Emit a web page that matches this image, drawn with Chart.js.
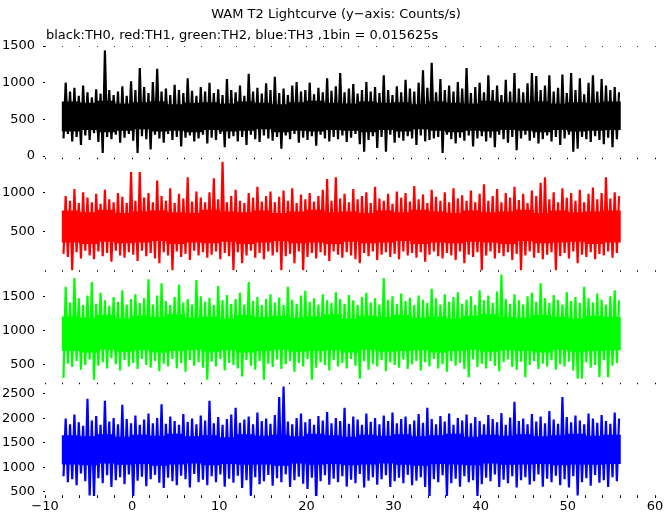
<!DOCTYPE html>
<html>
<head>
<meta charset="utf-8">
<script src="https://cdn.jsdelivr.net/npm/chart.js@4/dist/chart.umd.min.js"></script>
<style>
  body { margin: 0; background: #fff; }
  #wrap { position: relative; width: 672px; height: 515px; }
  .txt { position: absolute; font-family: "DejaVu Sans", sans-serif; font-size: 13px; line-height: 15px; color: #000; white-space: nowrap; }
  #title { left: 0; width: 672px; text-align: center; top: 6px; }
  #sub { left: 46px; top: 27px; }
</style>
</head>
<body>
<div id="wrap">
  <canvas id="myChart" width="672" height="515"></canvas>
  <div class="txt" id="title">WAM T2 Lightcurve (y−axis: Counts/s)</div>
  <div class="txt" id="sub">black:TH0, red:TH1, green:TH2, blue:TH3 ,1bin = 0.015625s</div>
</div>
<script>
// x axis: seconds
var xTicks = [-10, 0, 10, 20, 30, 40, 50, 60];

// time grid of the read values (seconds)
var spikeStart = -7.75, spikeStep = 0.5; // one lo/hi pair every 0.5 s
var coreStart = -7, coreStep = 2;       // solid band every 2 s

// TH0 (black)
var th0Hi = [1000, 880, 930, 820, 960, 870, 800, 910, 850, 1440, 900, 830, 880, 950, 820, 1020,
  900, 1200, 940, 860, 1010, 1190, 880, 920, 830, 970, 900, 860, 1060, 890, 820, 940,
  880, 1000, 860, 910, 830, 1050, 900, 870, 960, 820, 1120, 880, 930, 850, 990, 900,
  1080, 860, 920, 830, 960, 1010, 880, 900, 1000, 840, 930, 870, 1060, 890, 950, 1130,
  870, 920, 980, 850, 900, 1010, 880, 940, 860, 1100, 900, 830, 950, 870, 1040, 920,
  880, 1000, 1170, 930, 1270, 870, 1050, 900, 960, 880, 1010, 920, 1200, 860, 940, 1000,
  870, 1100, 900, 960, 830, 1040, 880, 1130, 920, 870, 990, 1130, 1090, 900, 960, 1100,
  880, 930, 1110, 860, 1130, 900, 1060, 840, 1000, 1100, 880, 1050, 960, 900, 940, 870];
var th0Lo = [240, 300, 200, 260, 150, 280, 220, 310, 190, 40, 260, 230, 290, 180, 250, 300,
  210, 40, 270, 230, 90, 290, 240, 180, 300, 220, 260, 130, 250, 280, 200, 240,
  290, 170, 250, 220, 300, 120, 240, 270, 200, 260, 150, 290, 230, 190, 280, 240,
  210, 260, 100, 280, 230, 300, 180, 250, 220, 270, 140, 290, 240, 200, 260, 230,
  280, 190, 250, 300, 160, 60, 220, 270, 110, 260, 60, 290, 180, 250, 210, 270,
  240, 150, 280, 200, 220, 240, 260, 40, 290, 230, 170, 250, 210, 280, 130, 240,
  270, 200, 250, 120, 290, 230, 180, 260, 80, 240, 290, 210, 250, 170, 230, 280,
  200, 260, 150, 240, 290, 60, 100, 260, 230, 190, 270, 220, 160, 250, 120, 230];
var th0CoreHi = [740, 720, 750, 710, 730, 740, 700, 720, 730, 710, 740, 720, 700, 730, 750, 720,
  710, 740, 720, 730, 700, 740, 720, 710, 750, 730, 720, 740, 710, 730, 720, 740];
var th0CoreLo = [340, 360, 330, 350, 370, 340, 350, 330, 360, 340, 350, 370, 330, 350, 340, 360,
  350, 330, 360, 340, 370, 350, 330, 350, 340, 360, 350, 330, 360, 340, 350, 360];

// TH1 (red)
var th1Hi = [960, 900, 1050, 870, 1010, 940, 880, 990, 860, 1040, 920, 880, 1000, 950, 870, 1270,
  900, 1270, 940, 1000, 880, 1160, 960, 900, 1060, 870, 990, 930, 1200, 890, 1020, 940,
  880, 1010, 1190, 920, 1400, 880, 960, 1040, 900, 870, 1000, 940, 1080, 890, 960, 1020,
  880, 950, 1030, 900, 1060, 870, 980, 920, 1000, 890, 960, 1040, 1180, 900, 1200, 930,
  990, 880, 1050, 920, 960, 1010, 870, 1080, 930, 900, 990, 860, 1020, 940, 1000, 890,
  1090, 920, 980, 870, 1040, 950, 900, 1010, 880, 1060, 930, 970, 900, 1030, 880, 990,
  1110, 900, 960, 1050, 880, 1000, 940, 1080, 910, 990, 870, 1030, 960, 1130, 1200, 920,
  1010, 880, 1060, 940, 1000, 900, 1040, 880, 990, 1070, 920, 1000, 1200, 930, 1010, 960];
var th1Lo = [220, 180, 10, 240, 160, 260, 200, 150, 250, 190, 230, 120, 260, 200, 170, 240,
  210, 130, 260, 190, 230, 160, 100, 240, 200, 10, 250, 180, 220, 140, 260, 200,
  240, 170, 210, 250, 150, 230, 190, 10, 240, 100, 200, 260, 170, 230, 150, 250,
  200, 240, 10, 190, 220, 100, 250, 10, 180, 230, 160, 240, 200, 130, 250, 210,
  170, 240, 200, 150, 100, 230, 190, 250, 140, 210, 240, 180, 220, 150, 250, 200,
  230, 170, 240, 120, 210, 250, 190, 160, 230, 200, 140, 250, 100, 210, 180, 240,
  10, 200, 250, 160, 230, 190, 240, 140, 220, 10, 200, 250, 170, 230, 150, 210,
  240, 10, 190, 230, 160, 250, 100, 210, 180, 240, 150, 220, 200, 250, 170, 230];
var th1CoreHi = [770, 750, 780, 740, 760, 770, 750, 740, 780, 760, 750, 770, 740, 760, 780, 750,
  760, 740, 770, 750, 780, 760, 740, 770, 750, 760, 780, 740, 770, 750, 760, 770];
var th1CoreLo = [370, 350, 380, 360, 370, 390, 350, 370, 360, 380, 350, 370, 390, 360, 370, 350,
  380, 360, 370, 390, 350, 370, 360, 380, 370, 350, 390, 360, 370, 380, 350, 370];

// TH2 (green)
var th2Hi = [1650, 1420, 1780, 1480, 1380, 1520, 1720, 1400, 1560, 1450, 1370, 1500, 1430, 1600, 1390, 1470,
  1540, 1410, 1480, 1760, 1390, 1520, 1700, 1440, 1380, 1500, 1680, 1420, 1470, 1390, 1750, 1510,
  1430, 1490, 1380, 1660, 1450, 1530, 1400, 1470, 1560, 1390, 1720, 1440, 1500, 1380, 1470, 1540,
  1420, 1490, 1380, 1650, 1460, 1400, 1520, 1590, 1430, 1480, 1390, 1540, 1450, 1410, 1570, 1470,
  1400, 1530, 1450, 1380, 1500, 1560, 1420, 1480, 1390, 1780, 1460, 1510, 1400, 1550, 1440, 1490,
  1380, 1520, 1460, 1410, 1620, 1480, 1390, 1540, 1430, 1500, 1570, 1400, 1460, 1510, 1380, 1600,
  1450, 1520, 1410, 1580, 1830, 1470, 1400, 1540, 1450, 1390, 1510, 1560, 1430, 1700, 1480, 1410,
  1530, 1460, 1390, 1570, 1440, 1500, 1410, 1650, 1480, 1420, 1550, 1460, 1390, 1510, 1600, 1450];
var th2Lo = [310, 520, 470, 560, 430, 500, 580, 285, 490, 540, 450, 600, 510, 420, 570, 480,
  530, 440, 590, 500, 460, 560, 410, 520, 480, 590, 450, 530, 400, 570, 490, 540,
  460, 285, 550, 480, 590, 420, 530, 500, 450, 330, 570, 490, 430, 560, 285, 520,
  470, 580, 440, 510, 560, 400, 530, 480, 590, 285, 460, 540, 500, 420, 570, 480,
  530, 450, 590, 490, 300, 560, 430, 520, 480, 570, 410, 540, 500, 460, 580, 440,
  510, 560, 420, 540, 480, 590, 450, 510, 400, 560, 490, 530, 440, 320, 580, 470,
  520, 450, 560, 490, 410, 540, 580, 470, 430, 550, 320, 500, 560, 440, 520, 480,
  570, 430, 510, 480, 550, 420, 300, 300, 540, 460, 500, 320, 570, 320, 490, 530];
var th2CoreHi = [1210, 1190, 1230, 1180, 1220, 1200, 1240, 1190, 1210, 1180, 1230, 1200, 1220, 1190, 1210, 1240,
  1180, 1220, 1200, 1230, 1190, 1210, 1180, 1220, 1240, 1200, 1190, 1230, 1210, 1180, 1220, 1200];
var th2CoreLo = [710, 690, 730, 700, 720, 690, 710, 730, 700, 720, 690, 710, 730, 700, 710, 720,
  690, 730, 700, 710, 720, 690, 710, 730, 700, 720, 710, 690, 730, 700, 710, 720];

// TH3 (blue)
var th3Hi = [2000, 1880, 2080, 1920, 1850, 2400, 1960, 2050, 1870, 2360, 1940, 2010, 1880, 2280, 1990, 1900,
  2060, 1870, 1980, 2100, 1900, 2010, 2290, 1890, 2040, 1950, 1870, 2090, 1930, 2000, 1880, 2060,
  1960, 2360, 1900, 2030, 1870, 1990, 2080, 2220, 1910, 1980, 2040, 1880, 2120, 1950, 2000, 1890,
  2070, 2440, 2650, 1940, 1880, 2010, 2100, 1920, 1990, 1870, 2050, 1960, 2130, 1900, 2010, 1950,
  2220, 1890, 2040, 1980, 1870, 2100, 1930, 2010, 1880, 2060, 1950, 2120, 1900, 1990, 2040, 1880,
  1960, 2090, 1910, 2220, 1990, 1880, 2050, 1940, 2100, 1870, 2010, 1960, 2080, 1900, 2030, 1950,
  1880, 2070, 1990, 1920, 2110, 1870, 2020, 2340, 1950, 2000, 1880, 2090, 1940, 2040, 1900, 2150,
  1980, 1890, 2440, 2030, 1920, 2060, 1960, 1880, 2100, 2000, 1910, 2070, 1950, 1890, 2120, 2000];
var th3Lo = [820, 700, 760, 640, 880, 720, 430, 400, 780, 680, 840, 600, 740, 800, 660, 860,
  380, 730, 810, 620, 760, 850, 690, 580, 790, 720, 640, 830, 760, 590, 870, 700,
  750, 640, 820, 700, 860, 610, 770, 690, 830, 580, 740, 420, 800, 660, 720, 850,
  630, 780, 700, 860, 600, 740, 810, 670, 560, 790, 280, 720, 840, 650, 770, 700,
  820, 610, 750, 680, 870, 590, 730, 800, 650, 760, 840, 600, 720, 790, 680, 850,
  640, 730, 800, 600, 380, 760, 700, 840, 420, 680, 770, 610, 820, 700, 740, 380,
  660, 790, 720, 860, 600, 750, 680, 820, 590, 740, 800, 650, 720, 860, 610, 770,
  700, 830, 640, 760, 590, 820, 430, 700, 780, 630, 850, 690, 740, 600, 800, 720];
var th3CoreHi = [1650, 1630, 1670, 1620, 1660, 1640, 1680, 1630, 1650, 1610, 1670, 1640, 1660, 1630, 1680, 1650,
  1620, 1660, 1640, 1670, 1630, 1650, 1680, 1620, 1660, 1640, 1670, 1630, 1650, 1680, 1640, 1660];
var th3CoreLo = [1070, 1050, 1090, 1060, 1080, 1040, 1070, 1090, 1050, 1080, 1060, 1070, 1040, 1090, 1060, 1080,
  1050, 1070, 1090, 1060, 1040, 1080, 1070, 1050, 1090, 1060, 1070, 1080, 1050, 1070, 1060, 1080];

// y range and tick labels of each panel (top to bottom)
var panelMin = [-34, 0, 228, 418];
var panelMax = [1500, 1442, 1882, 2714];
var panelTicks = [[0, 500, 1000, 1500], [500, 1000], [500, 1000, 1500], [500, 1000, 1500, 2000, 2500]];

var series = [
  { id: "y1", color: "#000000", hi: th0Hi, lo: th0Lo, coreHi: th0CoreHi, coreLo: th0CoreLo },
  { id: "y2", color: "#ff0000", hi: th1Hi, lo: th1Lo, coreHi: th1CoreHi, coreLo: th1CoreLo },
  { id: "y3", color: "#00ff00", hi: th2Hi, lo: th2Lo, coreHi: th2CoreHi, coreLo: th2CoreLo },
  { id: "y4", color: "#0000ff", hi: th3Hi, lo: th3Lo, coreHi: th3CoreHi, coreLo: th3CoreLo }
];

var FONT = { family: "DejaVu Sans", size: 13 };

var datasets = [];
series.forEach(function (s) {
  // solid middle of the band
  datasets.push({
    type: "bar",
    data: s.coreHi.map(function (v, i) { return { x: coreStart + i * coreStep, y: [s.coreLo[i], v] }; }),
    yAxisID: s.id, backgroundColor: s.color, borderWidth: 0,
    barThickness: 18, grouped: false
  });
  // the light curve itself: low, high, low, high ...
  var pts = [];
  s.hi.forEach(function (v, i) {
    var t = spikeStart + i * spikeStep;
    pts.push({ x: t - spikeStep / 4, y: s.lo[i] });
    pts.push({ x: t + spikeStep / 4, y: v });
  });
  datasets.push({
    type: "line",
    data: pts,
    yAxisID: s.id, borderColor: s.color, borderWidth: 2.2,
    borderJoinStyle: "bevel", pointRadius: 0, tension: 0, fill: false
  });
});

var scales = {
  x: {
    type: "linear", min: -10, max: 60, offset: false,
    ticks: {
      stepSize: 2, autoSkip: false, maxRotation: 0, padding: 1,
      color: "#000", font: FONT,
      callback: function (v) {
        if (xTicks.indexOf(v) < 0) return "";
        return v < 0 ? "\u2212" + Math.abs(v) : String(v);
      }
    },
    grid: { offset: false, color: "#000", lineWidth: 1, drawTicks: true, tickLength: 2 },
    border: { display: false, dash: [1.5, 111], dashOffset: 0.75 },
    afterFit: function (sc) { sc.height = 19; }
  }
};
panelTicks.forEach(function (tk, p) {
  scales["y" + (p + 1)] = {
    type: "linear", position: "left", stack: "lc", stackWeight: 1, weight: 4 - p,
    min: panelMin[p], max: panelMax[p],
    afterBuildTicks: function (sc) { sc.ticks = tk.map(function (v) { return { value: v }; }); },
    afterFit: function (sc) { sc.width = 45; },
    ticks: {
      color: "#000", font: FONT, padding: 8, autoSkip: false,
      callback: function (v) { return String(v); }
    },
    grid: { drawOnChartArea: false, drawTicks: true, tickLength: 2, color: "#000" },
    border: { display: false }
  };
});

var ctx = document.getElementById("myChart");
var lcChart = new Chart(ctx, {
  type: "bar",
  data: { datasets: datasets },
  options: {
    responsive: false,
    animation: false,
    devicePixelRatio: 1,
    layout: { padding: { left: 0, right: 17, top: 46, bottom: 0 } },
    plugins: { legend: { display: false }, tooltip: { enabled: false } },
    scales: scales
  }
});
</script>
</body>
</html>
